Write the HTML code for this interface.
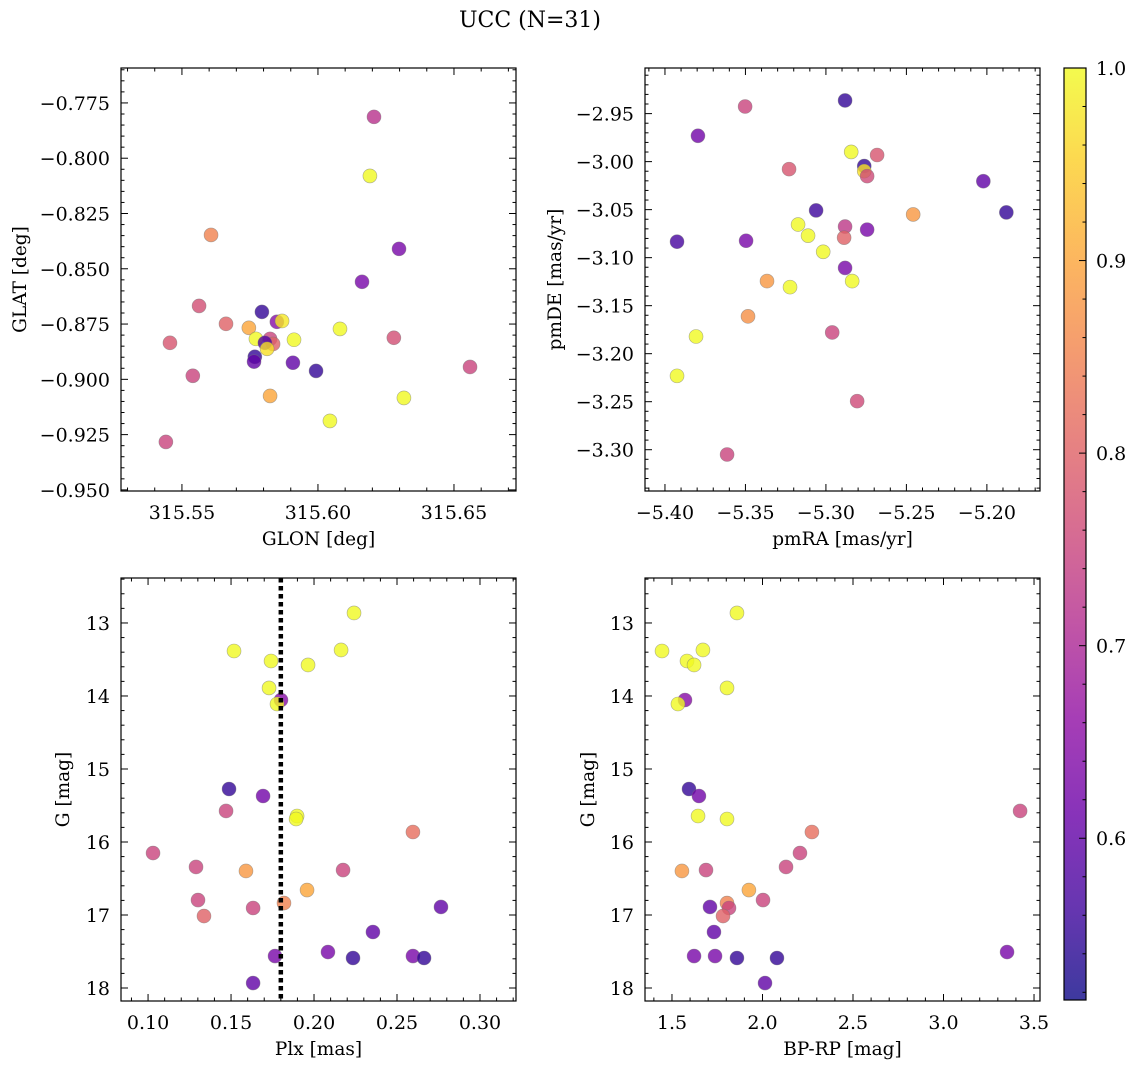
<!DOCTYPE html>
<html><head><meta charset="utf-8"><style>
html,body{margin:0;padding:0;background:#fff;}
svg{display:block;font-family:"DejaVu Serif","Liberation Serif",serif;}
</style></head><body>
<svg id="fig" width="1136" height="1068" viewBox="0 0 1136 1068">
<text x="530" y="27" font-size="22" text-anchor="middle">UCC (N=31)</text>
</svg>
<script>
// Panel 1: GLON vs GLAT
const glonX=[315.6206,315.6191,315.5607,315.6298,315.6162,315.5563,315.5662,315.5746,315.5794,315.5849,315.5868,315.6081,315.5456,315.5772,315.5824,315.5835,315.5805,315.5912,315.6279,315.5813,315.5768,315.5765,315.5908,315.5993,315.6559,315.554,315.5824,315.6316,315.6044,315.5441];
const glatY=[-0.7813,-0.808,-0.8347,-0.841,-0.8559,-0.8668,-0.8749,-0.8767,-0.8695,-0.874,-0.8736,-0.8772,-0.8835,-0.8817,-0.8817,-0.884,-0.8835,-0.8821,-0.8812,-0.8862,-0.8898,-0.892,-0.8925,-0.8962,-0.8944,-0.8984,-0.9075,-0.9084,-0.9188,-0.9283];
const glC=[0.72,1.0,0.85,0.63,0.63,0.77,0.8,0.9,0.55,0.65,0.98,1.0,0.78,1.0,0.75,0.8,0.58,1.0,0.77,0.97,0.55,0.6,0.6,0.55,0.75,0.75,0.9,1.0,1.0,0.75];
// Panel 2: pmRA vs pmDE
const pmraX=[-5.3502,-5.2881,-5.3795,-5.2843,-5.2682,-5.2762,-5.2762,-5.2744,-5.3229,-5.2022,-5.3061,-5.1879,-5.2458,-5.3173,-5.2881,-5.2744,-5.3111,-5.3925,-5.3496,-5.2887,-5.3017,-5.2881,-5.3366,-5.3223,-5.2837,-5.3484,-5.2961,-5.3807,-5.3925,-5.2806,-5.3614];
const pmdeY=[-2.9426,-2.9363,-2.9731,-2.9899,-2.9931,-3.0046,-3.0099,-3.0151,-3.0078,-3.0204,-3.0508,-3.0529,-3.0550,-3.0655,-3.0676,-3.0708,-3.0771,-3.0834,-3.0824,-3.0792,-3.0939,-3.1107,-3.1244,-3.1307,-3.1244,-3.1611,-3.1779,-3.1821,-3.2231,-3.2494,-3.3050];
const pmC=[0.75,0.55,0.62,1.0,0.78,0.55,0.97,0.76,0.78,0.6,0.56,0.55,0.88,1.0,0.73,0.63,1.0,0.57,0.63,0.8,1.0,0.63,0.88,1.0,1.0,0.87,0.75,1.0,1.0,0.76,0.75];
// Panel 3 & 4: Plx, BP-RP vs G
const gMag=[12.863,13.384,13.521,13.370,13.575,13.890,14.055,14.110,15.274,15.370,15.644,15.685,15.575,15.863,16.151,16.342,16.397,16.384,16.658,16.836,16.795,16.904,17.014,16.890,17.233,17.507,17.589,17.562,17.562,17.589,17.932];
const plxX=[0.2241,0.1518,0.1741,0.2163,0.1964,0.1729,0.1801,0.1777,0.1488,0.1693,0.1898,0.1892,0.1470,0.2596,0.1030,0.1289,0.1590,0.2175,0.1958,0.1819,0.1301,0.1633,0.1337,0.2765,0.2355,0.2084,0.2235,0.1765,0.2596,0.2663,0.1633];
const bprpX=[1.859,1.445,1.583,1.671,1.622,1.804,1.572,1.533,1.594,1.649,1.644,1.804,3.423,2.273,2.207,2.130,1.555,1.688,1.925,1.804,2.003,1.815,1.782,1.710,1.732,3.351,2.080,1.622,1.738,1.859,2.014];
const gC=[1,1,1,1,1,1,0.65,1,0.55,0.62,1,1,0.75,0.82,0.75,0.75,0.88,0.75,0.9,0.85,0.75,0.75,0.8,0.6,0.6,0.63,0.55,0.63,0.63,0.55,0.6];
const plxLine=0.180;
const cbTicks=[0.6,0.7,0.8,0.9,1.0];
const vmin=0.516,vmax=1.0;

const NS="http://www.w3.org/2000/svg";
const fig=document.getElementById('fig');
function el(t,a,p){const e=document.createElementNS(NS,t);for(const k in a)e.setAttribute(k,a[k]);(p||fig).appendChild(e);return e;}
const plasma=[[13,8,135],[65,4,157],[106,0,168],[143,13,164],[177,42,144],[204,71,120],[225,100,98],[242,132,75],[252,166,54],[252,206,37],[240,249,33]];
function cmap(v){let t=(v-vmin)/(vmax-vmin);t=Math.max(0,Math.min(1,t))*10;const i=Math.min(9,Math.floor(t)),f=t-i;const a=plasma[i],b=plasma[i+1];return 'rgb('+a.map((c,k)=>Math.round(c+(b[k]-c)*f)).join(',')+')';}

function panel(o){
  const g=el('g',{});
  
  
  const sx=v=>o.x0+(v-o.xmin)/(o.xmax-o.xmin)*(o.x1-o.x0);
  const sy=o.yinv?(v=>o.y0+(v-o.ymin)/(o.ymax-o.ymin)*(o.y1-o.y0)):(v=>o.y1-(v-o.ymin)/(o.ymax-o.ymin)*(o.y1-o.y0));
  for(let i=0;i<o.xs.length;i++){
    const c=el('circle',{cx:sx(o.xs[i]),cy:sy(o.ys[i]),r:7,fill:cmap(o.cs[i]),'fill-opacity':0.8,stroke:'#777','stroke-opacity':0.6,'stroke-width':0.6},g);
    
    
  }
  if(o.vline!==undefined){
    const l=el('line',{x1:sx(o.vline),x2:sx(o.vline),y1:o.y0,y2:o.y1,stroke:'#000','stroke-width':4.5,'stroke-dasharray':'4.5 3.5'},g);
    
    
  }
  const fr=el('rect',{x:o.x0,y:o.y0,width:o.x1-o.x0,height:o.y1-o.y0,fill:'none',stroke:'#000','stroke-width':1.2},g);
  
  
  const eps=1e-9;
  const xs0=Math.ceil((o.xmin)/o.xminor-eps)*o.xminor;
  for(let v=xs0;v<=o.xmax+eps;v+=o.xminor){
    const major=Math.abs(v/o.xmajor-Math.round(v/o.xmajor))<1e-4;const L=major?7:3.5;const x=sx(v);
    el('line',{x1:x,x2:x,y1:o.y1,y2:o.y1-L,stroke:'#000','stroke-width':1},g);
    el('line',{x1:x,x2:x,y1:o.y0,y2:o.y0+L,stroke:'#000','stroke-width':1},g);
    if(major){const t=el('text',{x:x,y:o.y1+28,'font-size':19,'text-anchor':'middle'},g);t.textContent=(Math.round(v/o.xmajor)*o.xmajor).toFixed(o.xdec).replace('-','\u2212');
      }
  }
  const ys0=Math.ceil((o.ymin)/o.yminor-eps)*o.yminor;
  for(let v=ys0;v<=o.ymax+eps;v+=o.yminor){
    const major=Math.abs(v/o.ymajor-Math.round(v/o.ymajor))<1e-4;const L=major?7:3.5;const y=sy(v);
    el('line',{x1:o.x0,x2:o.x0+L,y1:y,y2:y,stroke:'#000','stroke-width':1},g);
    el('line',{x1:o.x1,x2:o.x1-L,y1:y,y2:y,stroke:'#000','stroke-width':1},g);
    if(major){const t=el('text',{x:o.x0-11,y:y+7,'font-size':19,'text-anchor':'end'},g);t.textContent=(Math.round(v/o.ymajor)*o.ymajor).toFixed(o.ydec).replace('-','\u2212');
      }
  }
  const xl=el('text',{x:(o.x0+o.x1)/2,y:o.y1+54,'font-size':18.5,'text-anchor':'middle'},g);xl.textContent=o.xlabel;
  
  const yc=(o.y0+o.y1)/2;
  const yl=el('text',{x:o.ylx,y:yc,'font-size':18.5,'text-anchor':'middle',transform:'rotate(-90 '+o.ylx+' '+yc+')'},g);yl.textContent=o.ylabel;
  
}

panel({name:'glon-glat-panel',x0:121,x1:516,y0:68,y1:491,xmin:315.5276,xmax:315.6728,ymin:-0.9505,ymax:-0.7592,xmajor:0.05,xminor:0.01,ymajor:0.025,yminor:0.005,xdec:2,ydec:3,xs:glonX,ys:glatY,cs:glC,xlabel:'GLON [deg]',ylabel:'GLAT [deg]',ylx:26});
panel({name:'proper-motion-panel',x0:645,x1:1040,y0:68,y1:491,xmin:-5.4124,xmax:-5.167,ymin:-3.343,ymax:-2.9025,xmajor:0.05,xminor:0.01,ymajor:0.05,yminor:0.01,xdec:2,ydec:2,xs:pmraX,ys:pmdeY,cs:pmC,xlabel:'pmRA [mas/yr]',ylabel:'pmDE [mas/yr]',ylx:561});
panel({name:'plx-g-panel',x0:121,x1:516,y0:578,y1:1001,xmin:0.0837,xmax:0.3217,ymin:12.384,ymax:18.178,yinv:true,xmajor:0.05,xminor:0.01,ymajor:1,yminor:0.2,xdec:2,ydec:0,xs:plxX,ys:gMag,cs:gC,xlabel:'Plx [mas]',ylabel:'G [mag]',ylx:69,vline:plxLine});
panel({name:'cmd-panel',x0:645,x1:1040,y0:578,y1:1001,xmin:1.351,xmax:3.533,ymin:12.384,ymax:18.178,yinv:true,xmajor:0.5,xminor:0.1,ymajor:1,yminor:0.2,xdec:1,ydec:0,xs:bprpX,ys:gMag,cs:gC,xlabel:'BP-RP [mag]',ylabel:'G [mag]',ylx:594});

const cb=el('g',{});


const defs=el('defs',{},cb);
const lg=el('linearGradient',{id:'cbg',x1:0,y1:1,x2:0,y2:0},defs);
for(let i=0;i<=20;i++){const v=vmin+(vmax-vmin)*i/20;el('stop',{offset:i/20,'stop-color':cmap(v),'stop-opacity':0.8},lg);}
const cbx0=1064,cbx1=1086,cby0=68,cby1=1000;
const cy=v=>cby1-(v-vmin)/(vmax-vmin)*(cby1-cby0);
el('rect',{x:cbx0,y:cby0,width:cbx1-cbx0,height:cby1-cby0,fill:'url(#cbg)',stroke:'#000','stroke-width':1.2},cb);
for(let v=0.52;v<=1.0001;v+=0.02){
  const major=Math.abs(v*10-Math.round(v*10))<1e-4;const y=cy(v);
  el('line',{x1:cbx1,x2:cbx1-(major?7:3.5),y1:y,y2:y,stroke:'#000','stroke-width':1},cb);
}
for(let i=0;i<cbTicks.length;i++){
  const t=el('text',{x:cbx1+10,y:cy(cbTicks[i])+7,'font-size':19},cb);
  t.textContent=cbTicks[i].toFixed(1);
  
  
}
</script>
</body></html>
